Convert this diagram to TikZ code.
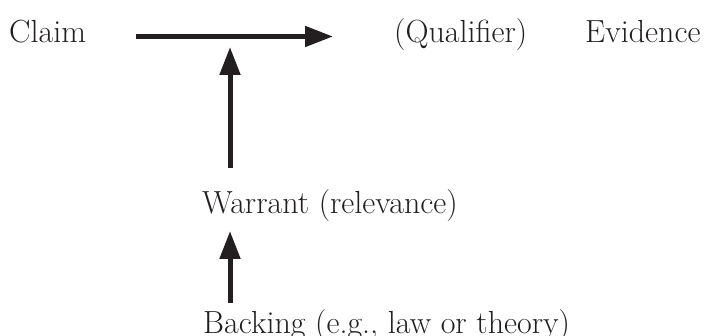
\documentclass[tikz,border=0pt]{standalone}
\usepackage{fontspec}
\usetikzlibrary{arrows.meta}
\definecolor{ink}{HTML}{231F20}
\tikzset{
  label text/.style={anchor=base west, inner sep=0pt, text=ink,
    font=\fontsize{32}{38}\selectfont\addfontfeatures{FakeBold=0.6}},
  arr/.style={draw=ink, line width=5pt,
    -{Triangle[length=28pt, width=20pt]}},
}
\begin{document}
\begin{tikzpicture}[x=1pt, y=-1pt]
  \useasboundingbox (0,0) rectangle (704,336);

  % labels of the argument
  \node[label text] (claim)    at (9,43)   {Claim};
  \node[label text] (qual)     at (394,43) {(Qualifier)};
  \node[label text] (evidence) at (585,43) {Evidence};
  \node[label text] (warrant)  at (202,214) {Warrant (relevance)};
  \node[label text] (backing)  at (203,334) {Backing (e.g., law or theory)};

  % claim towards qualifier
  \draw[arr, shorten <=50pt, shorten >=61pt]
    ([yshift=6.5pt]claim.base east) -- ([yshift=6.5pt]qual.base west);

  % warrant supports the claim line
  \draw[arr, shorten <=22pt, shorten >=4pt]
    ([xshift=28pt]warrant.north west) -- ([xshift=28pt]warrant.north west |- claim.base);

  % backing supports the warrant
  \draw[arr, shorten <=7pt, shorten >=17pt]
    ([xshift=27pt]backing.north west) -- ([xshift=28pt]warrant.base west);
\end{tikzpicture}
\end{document}
